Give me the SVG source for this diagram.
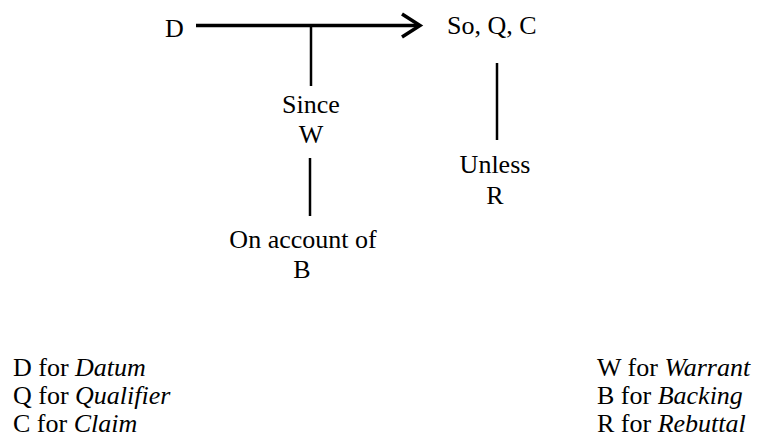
<svg xmlns="http://www.w3.org/2000/svg" width="757" height="438" viewBox="0 0 757 438" font-family="'Liberation Serif', 'Times New Roman', 'DejaVu Serif', serif">
<style>
text{font-family:'Liberation Serif','Times New Roman','DejaVu Serif',serif;font-size:26px;fill:#000}
.c{text-anchor:middle}
.i{font-style:italic}
.thick{stroke:#000;stroke-width:3.5;fill:none}
.thin{stroke:#000;stroke-width:2.5;fill:none}
</style>
<rect width="757" height="438" fill="#fff"/>
<g id="connectors">
<line class="thick" x1="196" y1="25.5" x2="419" y2="25.5"/>
<polyline class="thick" points="402,14 420,25.5 402,37"/>
<line class="thin" x1="311" y1="25.5" x2="311" y2="86"/>
<line class="thin" x1="310" y1="158" x2="310" y2="216"/>
<line class="thin" x1="497" y1="63" x2="497" y2="140"/>
</g>
<g id="node-D"><text x="165" y="37">D</text></g>
<g id="node-C"><text x="447" y="34">So, Q, C</text></g>
<g id="node-W"><text class="c" x="311" y="113">Since</text><text class="c" x="311" y="143">W</text></g>
<g id="node-B"><text class="c" x="303" y="248">On account of</text><text class="c" x="302" y="278">B</text></g>
<g id="node-R"><text class="c" x="495" y="173">Unless</text><text class="c" x="495" y="204">R</text></g>
<g id="legend">
<text x="13" y="376">D for <tspan class="i">Datum</tspan></text>
<text x="13" y="404">Q for <tspan class="i">Qualifier</tspan></text>
<text x="13" y="432">C for <tspan class="i">Claim</tspan></text>
<text x="597" y="376">W for <tspan class="i">Warrant</tspan></text>
<text x="597" y="404">B for <tspan class="i">Backing</tspan></text>
<text x="597" y="432">R for <tspan class="i">Rebuttal</tspan></text>
</g>
</svg>
